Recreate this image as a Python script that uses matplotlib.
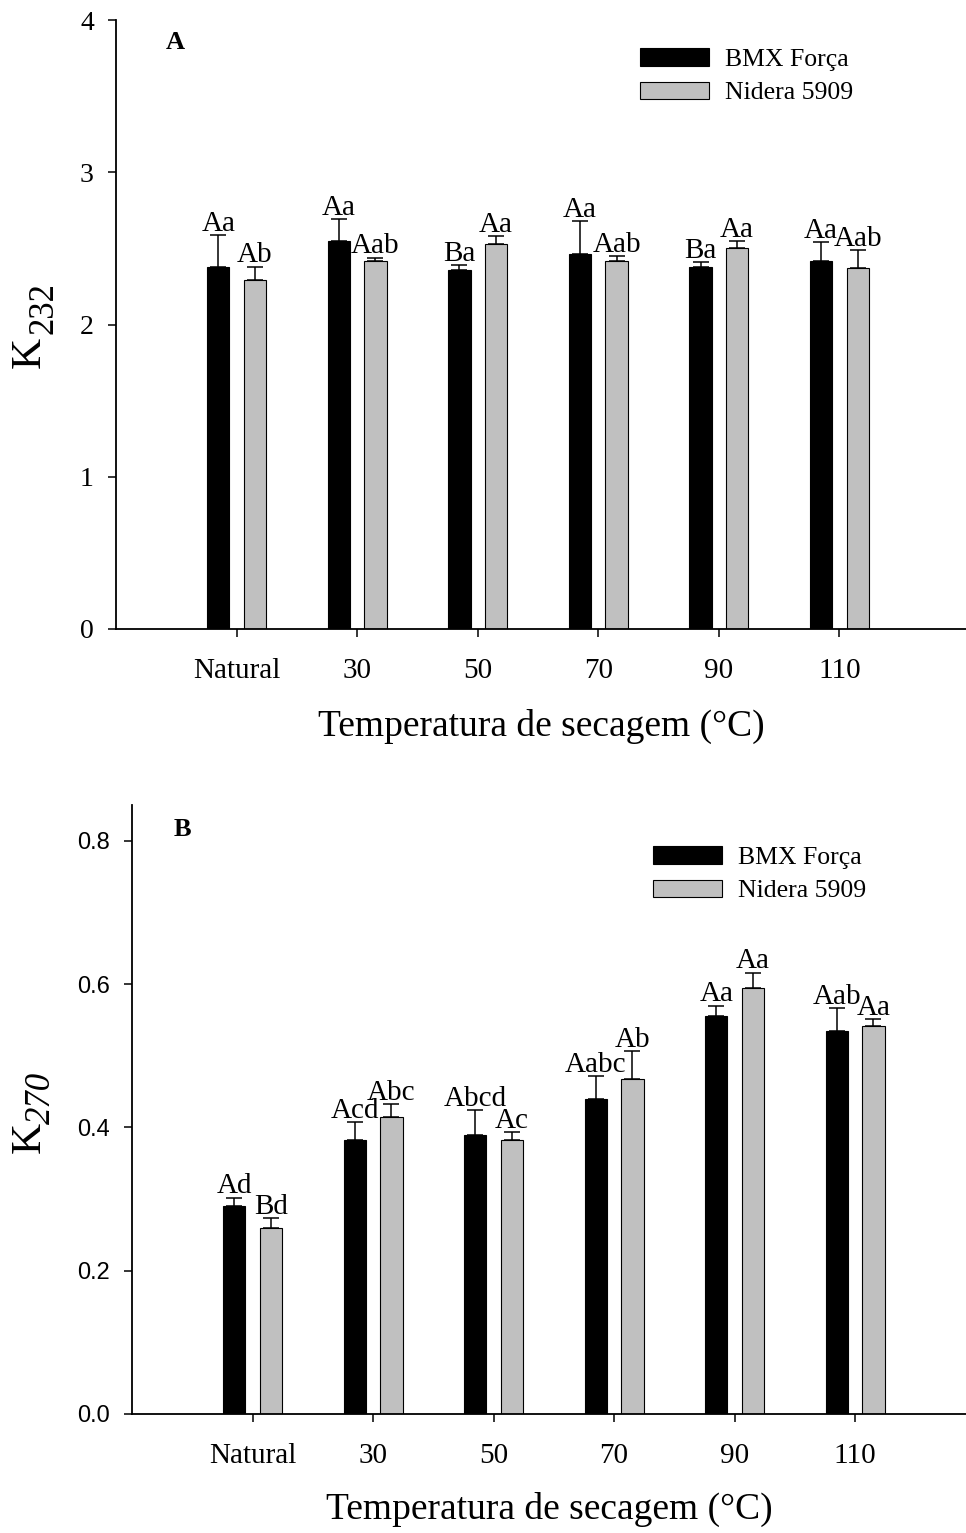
import numpy as np
import matplotlib
matplotlib.use("Agg")
import matplotlib.pyplot as plt

categories = ["Natural", "30", "50", "70", "90", "110"]
series_names = ["BMX Força", "Nidera 5909"]

k232_bmx = [2.38, 2.55, 2.36, 2.46, 2.38, 2.42]
k232_bmx_err = [0.21, 0.14, 0.03, 0.22, 0.03, 0.12]
k232_nid = [2.29, 2.42, 2.53, 2.42, 2.50, 2.37]
k232_nid_err = [0.09, 0.02, 0.05, 0.03, 0.05, 0.12]
k232_bmx_lbl = ["Aa", "Aa", "Ba", "Aa", "Ba", "Aa"]
k232_nid_lbl = ["Ab", "Aab", "Aa", "Aab", "Aa", "Aab"]

k270_bmx = [0.290, 0.382, 0.389, 0.439, 0.555, 0.534]
k270_bmx_err = [0.012, 0.025, 0.035, 0.033, 0.015, 0.032]
k270_nid = [0.259, 0.415, 0.383, 0.468, 0.595, 0.541]
k270_nid_err = [0.015, 0.018, 0.010, 0.038, 0.021, 0.010]
k270_bmx_lbl = ["Ad", "Acd", "Abcd", "Aabc", "Aa", "Aab"]
k270_nid_lbl = ["Bd", "Abc", "Ac", "Ab", "Aa", "Aa"]

SERIF = "Liberation Serif"
SANS = "Liberation Sans"
W, H = 966, 1533

fig = plt.figure(figsize=(W / 100, H / 100), dpi=100)


def px(x, y):
    return x / W, 1 - y / H


def panel(rect, bmx, bmx_err, nid, nid_err, bmx_lbl, nid_lbl, ylim, yticks,
          ytick_font, xlim, letter, letter_pos, leg_anchor, xlabelpad):
    ax = fig.add_axes(rect)
    x = np.arange(1, len(categories) + 1)
    off, w = 0.152, 0.186
    ax.bar(x - off, bmx, w, color="black", edgecolor="black", linewidth=0.8,
           label=series_names[0], zorder=2)
    ax.bar(x + off, nid, w, color="#c0c0c0", edgecolor="black", linewidth=0.8,
           label=series_names[1], zorder=2)
    for xs, v, e in [(x - off, bmx, bmx_err), (x + off, nid, nid_err)]:
        ax.errorbar(xs, v, yerr=[np.zeros(len(v)), e], fmt="none", ecolor="black",
                    elinewidth=1.1, capsize=6, capthick=1.1, zorder=3)
    for xs, v, e, lb in [(x - off, bmx, bmx_err, bmx_lbl), (x + off, nid, nid_err, nid_lbl)]:
        for xi, vi, ei, t in zip(xs, v, e, lb):
            ax.annotate(t, (xi, vi + ei), xytext=(0, 3), textcoords="offset points",
                        ha="center", va="baseline", fontsize=21, family=SERIF)
    ax.set_xlim(*xlim)
    ax.set_ylim(*ylim)
    ax.set_xticks(x)
    ax.set_xticklabels(categories, family=SERIF, fontsize=21)
    ax.set_yticks(yticks)
    ax.set_yticklabels([ytick_font[1](t) for t in yticks], family=ytick_font[0], fontsize=ytick_font[2])
    ax.tick_params(axis="both", direction="out", length=6, width=1.1)
    ax.tick_params(axis="x", pad=15)
    ax.tick_params(axis="y", pad=10)
    for s in ["top", "right"]:
        ax.spines[s].set_visible(False)
    for s in ["left", "bottom"]:
        ax.spines[s].set_linewidth(1.3)
    ax.set_xlabel("Temperatura de secagem (°C)", family=SERIF, fontsize=27, labelpad=xlabelpad)
    fig.text(*px(*letter_pos), letter, family=SERIF, fontsize=19, fontweight="bold",
             ha="left", va="top")
    ax.legend(loc="upper left", bbox_to_anchor=px(*leg_anchor),
              bbox_transform=fig.transFigure, frameon=False,
              prop={"family": SERIF, "size": 18.5}, handlelength=2.7,
              handleheight=0.68, handletextpad=0.6, labelspacing=0.42,
              borderaxespad=0, borderpad=0)
    return ax


panel([116 / W, 1 - 629 / H, 1 - 116 / W, 609 / H],
      k232_bmx, k232_bmx_err, k232_nid, k232_nid_err, k232_bmx_lbl, k232_nid_lbl,
      (0, 4), [0, 1, 2, 3, 4], (SERIF, lambda t: f"{t:g}", 20), (0, 7.05),
      "A", (166, 31), (640, 48), 18)

panel([132 / W, 1 - 1414 / H, 1 - 132 / W, 609 / H],
      k270_bmx, k270_bmx_err, k270_nid, k270_nid_err, k270_bmx_lbl, k270_nid_lbl,
      (0, 0.85), [0.0, 0.2, 0.4, 0.6, 0.8], (SANS, lambda t: f"{t:.1f}", 17), (0, 6.92),
      "B", (174, 818), (653, 846), 16)

# y labels: K with a same-size subscript, built from two rotated texts
fig.text(*px(40, 368), "K", family=SERIF, fontsize=31, rotation=90,
         rotation_mode="anchor", ha="left", va="baseline")
fig.text(*px(52, 334), "232", family=SERIF, fontsize=25, rotation=90,
         rotation_mode="anchor", ha="left", va="baseline")
fig.text(*px(40, 1153), "K", family=SERIF, fontsize=31, rotation=90,
         rotation_mode="anchor", ha="left", va="baseline")
fig.text(*px(50, 1124), "270", family=SERIF, fontsize=25, style="italic", rotation=90,
         rotation_mode="anchor", ha="left", va="baseline")

fig.savefig("out.png", dpi=100)
